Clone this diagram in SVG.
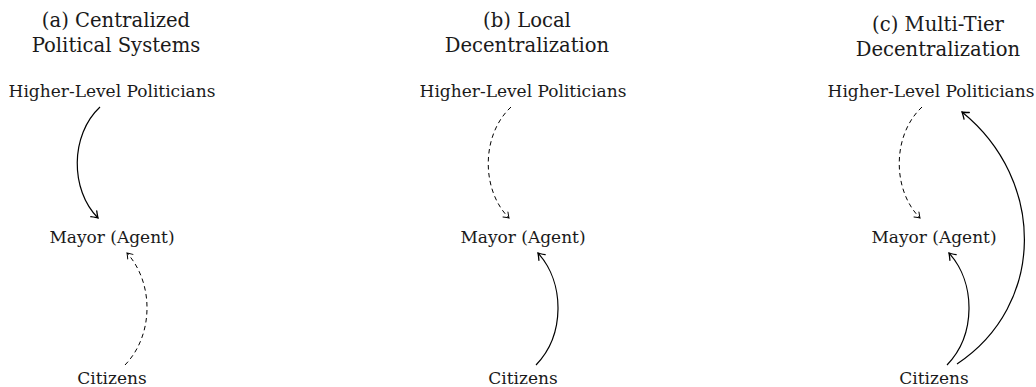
<svg xmlns="http://www.w3.org/2000/svg" width="1036" height="387" viewBox="0 0 1036 387">
<defs>
<style>
text{fill:#1a1a1a;text-anchor:middle}
.t{font-size:19.6px}
.n{font-size:17px}
.c{fill:none;stroke:#000;stroke-width:1.2}
.d{fill:none;stroke:#000;stroke-width:1;stroke-dasharray:4.5 3.5}
</style>
<marker id="ah" markerWidth="12" markerHeight="12" refX="0" refY="0" viewBox="-8 -6 10 12" orient="auto" markerUnits="userSpaceOnUse">
<path d="M-6,-4.2 Q-1.5,-0.8 0,0 Q-1.5,0.8 -6,4.2" fill="none" stroke="#000" stroke-width="1.3" stroke-linecap="round"/>
</marker>
<marker id="ahd" markerWidth="12" markerHeight="12" refX="0" refY="0" viewBox="-8 -6 10 12" orient="auto" markerUnits="userSpaceOnUse">
<path d="M-5,-3.5 Q-1.2,-0.7 0,0 Q-1.2,0.7 -5,3.5" fill="none" stroke="#000" stroke-width="1" stroke-linecap="round"/>
</marker>
</defs>
<g font-family="DejaVu Serif, Liberation Serif, serif">
<g id="titles">
<text class="t" x="116" y="27">(a) Centralized</text>
<text class="t" x="116" y="52">Political Systems</text>
<text class="t" x="527" y="27">(b) Local</text>
<text class="t" x="527" y="52">Decentralization</text>
<text class="t" x="938" y="31">(c) Multi-Tier</text>
<text class="t" x="938" y="56">Decentralization</text>
</g>
<g id="a-higher"><text class="n" x="112" y="97">Higher-Level Politicians</text></g>
<g id="a-mayor"><text class="n" x="112" y="243">Mayor (Agent)</text></g>
<g id="a-citizens"><text class="n" x="112" y="384">Citizens</text></g>
<g id="b-higher"><text class="n" x="523" y="97">Higher-Level Politicians</text></g>
<g id="b-mayor"><text class="n" x="523" y="243">Mayor (Agent)</text></g>
<g id="b-citizens"><text class="n" x="523" y="384">Citizens</text></g>
<g id="c-higher"><text class="n" x="931" y="97">Higher-Level Politicians</text></g>
<g id="c-mayor"><text class="n" x="934" y="243">Mayor (Agent)</text></g>
<g id="c-citizens"><text class="n" x="934" y="384">Citizens</text></g>
</g>
<g id="connectors">
<path class="c" d="M100,107 C70,135 70,190 98,218" marker-end="url(#ah)"/>
<path class="d" d="M125,365 C154,335 154,283 127,253" marker-end="url(#ahd)"/>
<path class="d" d="M511,107 C481,135 481,190 509,218" marker-end="url(#ahd)"/>
<path class="c" d="M536,365 C565,335 565,283 538,253" marker-end="url(#ah)"/>
<path class="d" d="M922,107 C892,135 892,190 920,218" marker-end="url(#ahd)"/>
<path class="c" d="M947,365 C976,335 976,283 949,253" marker-end="url(#ah)"/>
<path class="c" d="M957,364 C1046,305 1046,180 962,112" marker-end="url(#ah)"/>
</g>
</svg>
